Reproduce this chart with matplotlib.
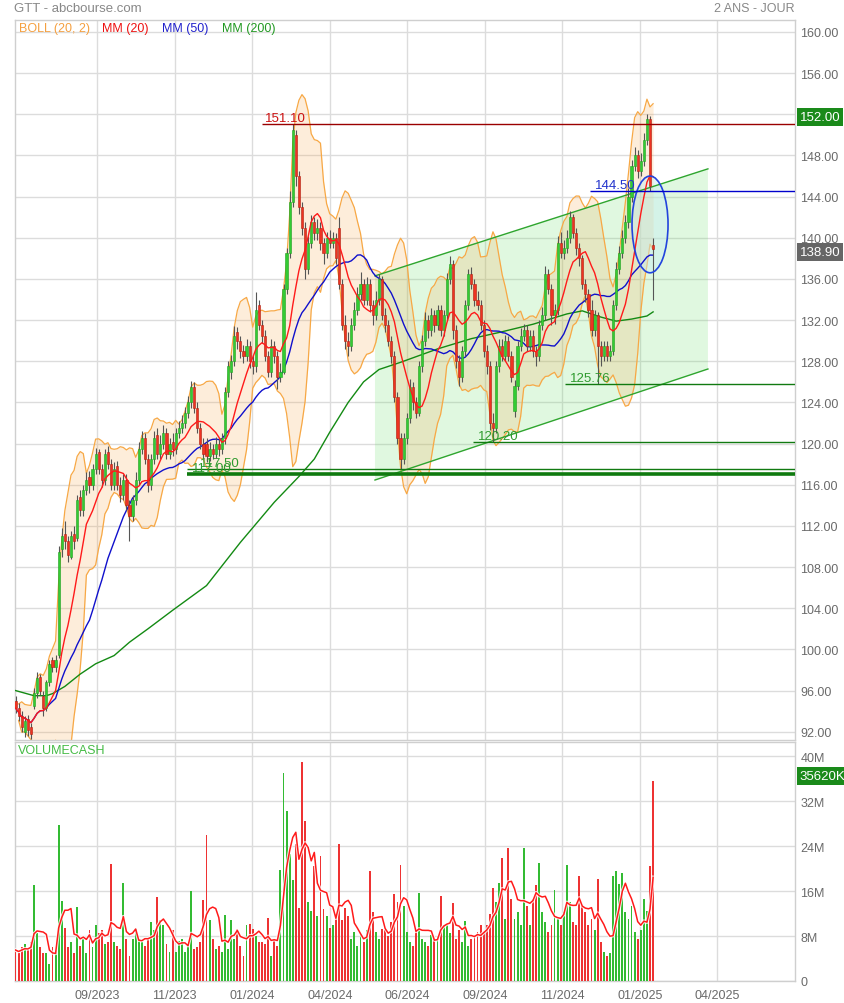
import numpy as np
import pandas as pd
import matplotlib
matplotlib.use("Agg")
import matplotlib.pyplot as plt
from matplotlib.patches import Ellipse, Polygon
import matplotlib.patheffects as pe
import matplotlib.transforms as mtransforms

plt.rcParams['font.family'] = ['Liberation Sans', 'DejaVu Sans']

# ---------------- data (2-day bars) ----------------
OPEN = [
    95.0, 94.3, 93.5, 92.0, 93.2, 92.5, 94.5, 95.8, 97.3, 95.5,
    94.3, 96.8, 99.0, 98.3, 99.5, 109.8, 111.2, 110.5, 109.0, 111.2,
    110.8, 114.8, 113.5, 115.5, 116.8, 116.0, 117.5, 119.2, 117.5, 116.5,
    119.2, 118.0, 116.0, 117.8, 116.0, 115.0, 116.5, 114.0, 113.0, 114.5,
    116.5, 119.5, 120.5, 118.5, 116.0, 118.5, 120.8, 119.0, 120.0, 121.0,
    119.0, 120.2, 119.5, 121.0, 121.5, 122.0, 123.0, 124.0, 125.5, 123.5,
    121.5, 120.0, 120.0, 118.8, 119.5, 119.0, 120.0, 119.5, 120.5, 125.0,
    127.0, 128.0, 130.8, 130.0, 129.0, 128.5, 129.5, 128.0, 127.5, 133.5,
    131.5, 130.5, 128.5, 127.0, 129.5, 128.5, 126.5, 127.0, 135.0, 138.5,
    143.5, 150.0, 146.0, 143.0, 141.0, 137.0, 139.5, 141.5, 140.5, 141.0,
    139.5, 138.5, 140.0, 139.5, 140.0, 141.0, 135.5, 131.5, 130.0, 129.5,
    131.5, 133.0, 134.5, 135.5, 134.0, 135.5, 133.5, 132.5, 134.0, 136.0,
    132.5, 131.5, 130.0, 128.5, 124.5, 120.5, 118.5, 120.5, 122.5, 125.5,
    124.0, 123.0, 127.5, 130.0, 132.0, 131.0, 132.5, 131.5, 133.0, 131.0,
    132.5, 136.0, 137.5, 131.0, 128.0, 126.5, 129.0, 133.5, 136.5, 135.5,
    134.0, 133.5, 131.5, 129.0, 127.5, 122.0, 121.5, 127.5, 129.5, 128.5,
    130.0, 128.5, 123.2, 125.6, 129.5, 130.5, 131.0, 129.5, 130.5, 129.0,
    128.5, 131.5, 132.5, 136.5, 135.0, 132.5, 133.0, 139.5, 138.5, 139.0,
    140.0, 142.0, 140.5, 139.0, 138.0, 135.5, 134.5, 133.0, 131.0, 132.5,
    129.5, 128.5, 129.5, 128.5, 129.0, 133.5, 137.0, 138.5, 140.0, 141.5,
    144.0, 147.0, 148.0, 146.5, 147.5, 149.5, 151.5, 139.3]

CLOSE = [
    94.3, 93.5, 92.5, 93.0, 92.2, 91.8, 95.8, 97.2, 96.0, 94.3,
    96.8, 98.6, 98.3, 99.0, 109.5, 111.0, 110.5, 109.2, 111.0, 110.5,
    114.5, 113.5, 115.5, 116.5, 116.0, 117.5, 119.0, 117.5, 116.5, 119.0,
    118.0, 116.0, 117.5, 116.0, 115.0, 116.5, 114.0, 113.0, 114.5, 116.5,
    119.5, 120.5, 118.5, 116.0, 118.5, 120.5, 119.0, 120.0, 121.0, 119.0,
    120.0, 119.5, 121.0, 121.5, 122.0, 123.0, 124.0, 125.5, 123.5, 121.5,
    120.0, 119.0, 118.8, 119.5, 119.0, 120.0, 119.5, 120.5, 125.0, 127.5,
    128.0, 130.5, 130.0, 129.0, 128.5, 129.5, 128.0, 127.5, 133.0, 131.5,
    130.5, 128.5, 127.0, 129.5, 128.5, 126.5, 127.0, 135.0, 138.5, 143.5,
    150.5, 146.0, 143.0, 141.0, 137.0, 139.5, 141.5, 140.5, 141.0, 139.5,
    138.5, 140.0, 139.5, 140.0, 138.0, 135.5, 131.5, 130.0, 129.5, 131.5,
    133.0, 134.5, 135.5, 134.0, 135.5, 133.5, 132.5, 134.0, 136.0, 132.5,
    131.5, 130.0, 128.5, 124.5, 120.5, 118.5, 120.5, 122.5, 125.5, 124.0,
    123.0, 127.5, 130.0, 132.0, 131.0, 132.5, 131.5, 133.0, 131.0, 132.5,
    136.0, 137.5, 131.0, 128.0, 126.5, 129.0, 133.5, 136.5, 135.5, 134.0,
    133.5, 131.5, 129.0, 127.5, 122.0, 121.5, 127.5, 129.5, 128.5, 130.0,
    128.5, 126.5, 125.6, 129.5, 130.5, 131.0, 129.5, 130.5, 129.0, 128.5,
    131.5, 132.5, 136.5, 135.0, 132.5, 133.0, 139.5, 138.5, 139.0, 140.0,
    142.0, 140.5, 139.0, 138.0, 135.5, 134.5, 133.0, 131.0, 132.5, 129.5,
    128.5, 129.5, 128.5, 129.0, 133.5, 137.0, 138.5, 140.0, 141.5, 144.0,
    147.0, 148.0, 146.5, 147.5, 149.5, 151.5, 145.0, 138.9]

HIGH = [
    95.5, 94.8, 94.0, 93.5, 93.6, 92.8, 96.2, 97.8, 97.6, 96.0,
    97.0, 99.0, 99.3, 99.5, 110.0, 111.8, 112.5, 111.0, 111.5, 112.0,
    115.0, 115.5, 116.0, 117.2, 117.3, 118.0, 119.6, 119.5, 118.0, 119.5,
    119.8, 118.5, 118.2, 118.3, 116.8, 117.0, 117.0, 114.5, 115.0, 117.2,
    120.2, 121.2, 121.0, 119.0, 119.0, 121.2, 121.5, 120.8, 121.8, 121.5,
    120.5, 121.0, 121.5, 122.2, 122.8, 123.6, 124.6, 126.1, 126.0, 124.0,
    122.0, 120.5, 120.5, 120.2, 120.0, 120.6, 120.5, 121.0, 125.5, 128.0,
    128.6, 131.4, 131.3, 130.5, 129.6, 130.2, 130.0, 128.6, 134.7, 134.0,
    132.0, 131.0, 129.0, 130.2, 130.0, 129.0, 127.8, 135.5, 139.0, 144.5,
    151.1, 150.5, 146.5, 143.5, 141.5, 140.2, 142.2, 142.0, 141.8, 141.5,
    140.0, 140.6, 140.8, 140.6, 140.5, 142.0, 136.0, 132.5, 130.8, 132.2,
    133.8, 135.2, 136.7, 136.0, 136.2, 136.0, 134.0, 134.8, 136.5, 136.3,
    133.2, 132.0, 130.5, 129.0, 125.0, 121.0, 121.0, 123.0, 126.3, 126.0,
    124.5, 128.0, 130.6, 132.8, 132.5, 133.2, 133.0, 133.5, 133.5, 133.0,
    136.6, 138.2, 137.8, 131.5, 128.6, 129.5, 134.0, 137.0, 137.2, 136.0,
    134.8, 134.0, 132.0, 129.6, 128.0, 123.0, 128.0, 130.2, 130.2, 130.6,
    130.5, 129.0, 126.2, 130.0, 131.2, 131.6, 131.5, 131.0, 131.0, 129.5,
    132.0, 133.3, 137.3, 137.0, 135.5, 133.6, 140.2, 140.6, 139.8, 140.8,
    142.6, 142.3, 141.0, 139.5, 138.3, 136.0, 135.0, 134.0, 133.0, 132.8,
    130.0, 130.0, 130.0, 129.6, 134.0, 137.6, 139.2, 140.8, 142.2, 144.8,
    147.6, 148.8, 148.5, 148.2, 150.2, 152.0, 151.8, 140.0]

LOW = [
    93.8, 93.0, 92.0, 91.5, 91.6, 91.3, 94.2, 95.3, 95.6, 93.5,
    94.0, 96.4, 97.8, 97.8, 99.2, 109.0, 109.8, 108.5, 108.8, 109.8,
    110.5, 113.0, 113.0, 115.0, 115.2, 115.5, 117.0, 117.0, 115.8, 116.0,
    117.5, 115.5, 115.5, 115.5, 114.3, 114.5, 113.5, 110.5, 112.5, 114.0,
    116.0, 119.0, 118.0, 115.3, 115.5, 118.0, 118.5, 118.5, 119.5, 118.5,
    118.5, 118.8, 119.0, 120.5, 121.0, 121.5, 122.5, 123.5, 123.0, 121.0,
    119.5, 118.5, 118.2, 118.3, 118.5, 118.6, 118.8, 119.0, 120.0, 124.5,
    126.3, 127.5, 129.2, 128.3, 127.8, 128.0, 127.3, 126.8, 127.0, 131.0,
    129.8, 128.0, 126.5, 126.5, 127.8, 125.3, 126.0, 126.8, 134.5, 138.0,
    143.0, 145.0, 142.3, 140.3, 136.0, 136.5, 139.0, 139.8, 139.8, 138.8,
    137.5, 138.0, 139.0, 139.0, 137.5, 135.0, 131.0, 129.2, 128.5, 129.0,
    131.0, 132.5, 134.0, 133.5, 133.5, 132.8, 131.5, 132.0, 133.5, 132.0,
    130.8, 129.5, 127.8, 124.0, 120.0, 117.5, 118.0, 120.0, 122.0, 123.3,
    122.5, 122.7, 127.0, 129.5, 130.3, 130.5, 130.8, 131.0, 130.5, 130.5,
    132.0, 135.5, 130.2, 127.3, 125.6, 126.0, 128.5, 133.0, 135.0, 133.4,
    133.0, 131.0, 128.4, 126.8, 121.3, 120.2, 121.0, 127.0, 128.0, 128.0,
    128.0, 126.0, 122.6, 125.2, 129.0, 130.0, 129.0, 129.0, 128.4, 127.5,
    128.0, 131.0, 132.0, 134.5, 131.5, 131.6, 132.5, 138.0, 137.9, 138.5,
    139.5, 140.0, 138.3, 137.3, 135.0, 133.8, 132.3, 130.5, 130.5, 125.76,
    127.5, 128.0, 128.0, 128.0, 128.6, 133.0, 136.5, 138.0, 139.5, 141.0,
    143.5, 146.5, 145.8, 146.0, 147.0, 149.0, 144.5, 134.0]

VOLUME_M = [
    5.5, 5.0, 6.0, 6.5, 5.5, 7.0, 17.0, 8.5, 6.0, 5.0,
    5.0, 3.0, 6.0, 5.5, 27.7, 14.2, 9.5, 6.0, 7.0, 5.0,
    13.2, 6.3, 7.5, 5.0, 9.0, 6.0, 10.0, 8.5, 9.0, 6.6,
    7.0, 20.8, 7.0, 6.3, 5.7, 17.4, 7.5, 4.5, 7.5, 9.3,
    7.5, 7.0, 6.3, 7.5, 10.5, 9.0, 14.9, 10.8, 9.9, 6.5,
    5.1, 9.0, 5.1, 7.2, 7.5, 5.1, 6.5, 16.0, 5.7, 6.0,
    7.0, 14.4, 26.0, 10.8, 7.5, 5.7, 6.3, 5.1, 11.7, 5.7,
    10.8, 7.5, 9.3, 6.3, 4.5, 9.9, 10.2, 9.3, 8.0, 6.9,
    7.0, 6.5, 11.2, 4.5, 7.5, 6.3, 19.8, 37.0, 30.2, 22.6,
    18.0, 24.4, 13.0, 38.9, 28.4, 14.0, 12.5, 20.5, 11.5, 22.2,
    12.8, 11.5, 9.5, 10.0, 12.0, 24.4, 10.8, 13.0, 11.5, 7.5,
    8.7, 6.3, 8.1, 6.9, 9.0, 19.5, 12.2, 8.7, 7.5, 9.3,
    9.0, 8.0, 10.5, 15.5, 14.0, 20.6, 13.4, 8.7, 7.0, 6.3,
    8.7, 15.6, 7.5, 6.9, 6.3, 8.1, 7.5, 8.0, 15.2, 9.9,
    9.9, 8.5, 13.9, 7.5, 9.0, 6.9, 10.7, 6.3, 7.5, 8.1,
    8.7, 9.9, 8.7, 10.0, 12.0, 16.5, 14.0, 17.5, 21.9, 11.0,
    23.6, 14.6, 11.0, 12.2, 10.0, 23.6, 13.4, 9.9, 14.6, 17.0,
    21.0, 12.2, 10.5, 8.7, 9.9, 16.2, 11.0, 9.9, 12.2, 20.6,
    14.0, 10.5, 10.0, 18.7, 13.4, 12.2, 9.9, 11.0, 9.0, 18.2,
    7.0, 5.1, 4.5, 5.0, 18.7, 19.5, 17.3, 19.2, 12.2, 11.0,
    13.4, 8.7, 7.5, 9.0, 14.6, 12.5, 20.4, 35.62]

# 200-period moving average (bar index, value)
MM200_IDX = [0, 6, 10, 12, 16, 21, 26, 32, 37, 43, 51, 62, 73, 84, 92, 97, 102,
             108, 113, 118, 125, 137, 148, 157, 168, 179, 184, 190, 195, 200, 205, 207]
MM200_VAL = [96.0, 95.5, 95.5, 95.7, 96.4, 97.6, 98.6, 99.4, 100.7, 102.0, 103.8,
             106.2, 110.4, 114.3, 116.8, 118.5, 121.1, 124.0, 126.0, 127.2, 127.9,
             129.2, 130.2, 130.8, 131.6, 132.6, 132.9, 132.3, 131.9, 132.1, 132.4, 132.8]

MONTH_LABELS = ["09/2023", "11/2023", "01/2024", "04/2024", "06/2024",
                "09/2024", "11/2024", "01/2025", "04/2025"]

LEVEL_VALUES = [151.10, 144.50, 125.76, 120.20, 117.50, 117.00]
LEVEL_START = [80.0, 186.5, 178.4, 148.5, 55.7, 55.7]      # bar where each line starts
LEVEL_TEXT_AT = [81.0, 188.1, 180.0, 150.1, 59.9, 57.3]
LEVEL_COLORS = ["#9a0000", "#0000cc", "#117a11", "#117a11", "#117a11", "#0f7a0f"]
LEVEL_TCOLORS = ["#cc1111", "#2233cc", "#2e9a2e", "#2e9a2e", "#2e9a2e", "#2e9a2e"]
LEVEL_WIDTHS = [1.0, 1.0, 1.0, 1.0, 1.0, 2.6]

CHANNEL_X = [116.7, 224.8]
CHANNEL_UPPER = [136.3, 146.7]
CHANNEL_LOWER = [116.46, 127.25]

ELLIPSE_CENTER = (206.0, 141.3)
ELLIPSE_SIZE = (11.7, 9.4)

HIGH_LABEL = 152.00
LAST_CLOSE = 138.90
LAST_VOLUME_K = 35620

# ---------------- figure ----------------
W, H = 845, 1004
fig = plt.figure(figsize=(W / 100, H / 100), dpi=100)
fig.patch.set_facecolor("white")

def fbox(l, t, r, b):
    return [l / W, 1 - b / H, (r - l) / W, (b - t) / H]

ax = fig.add_axes(fbox(15, 21, 795, 741))
axv = fig.add_axes(fbox(15, 743, 795, 982))

XMIN, XMAX = -0.175, 253.07
GRIDC = "#dcdcdc"
TXT = "#6a6a6a"
FS = 9

n = len(CLOSE)
assert len(OPEN) == n and len(HIGH) == n and len(LOW) == n and len(VOLUME_M) == n
idx = np.arange(n)
o = np.array(OPEN); c = np.array(CLOSE); h = np.array(HIGH); l = np.array(LOW)
up = c >= o

grid_x = 26.55 + 25.16 * np.arange(len(MONTH_LABELS))

for a in (ax, axv):
    a.set_xlim(XMIN, XMAX)
    for s in a.spines.values():
        s.set_color("#cfcfcf")
        s.set_linewidth(1.0)
    a.set_xticks(grid_x)
    a.grid(True, axis="both", color=GRIDC, lw=1.0, zorder=0)
    a.set_axisbelow(True)
    a.tick_params(length=0, colors=TXT, labelsize=FS)
    a.yaxis.tick_right()

ax.set_ylim(91.195, 161.166)
ax.set_yticks(np.arange(92, 161, 4))
ax.set_yticklabels([f"{v:.2f}" for v in np.arange(92, 161, 4)])
ax.tick_params(axis="y", pad=4)
ax.set_xticklabels([])

# channel fill + lines
poly = Polygon([(CHANNEL_X[0], CHANNEL_UPPER[0]), (CHANNEL_X[1], CHANNEL_UPPER[1]),
                (CHANNEL_X[1], CHANNEL_LOWER[1]), (CHANNEL_X[0], CHANNEL_LOWER[0])],
               closed=True, facecolor="#66dd66", alpha=0.2, edgecolor="none", zorder=1)
ax.add_patch(poly)
ax.plot(CHANNEL_X, CHANNEL_UPPER, color="#2ea52e", lw=1.0, zorder=3)
ax.plot(CHANNEL_X, CHANNEL_LOWER, color="#2ea52e", lw=1.0, zorder=3)

# indicators
s = pd.Series(c)
mm20 = s.rolling(10, min_periods=1).mean()
sd = s.rolling(10, min_periods=2).std(ddof=0)
bb_up = mm20 + 2 * sd
bb_lo = mm20 - 2 * sd
mm50 = s.rolling(25, min_periods=1).mean()

ax.fill_between(idx, bb_lo, bb_up, color="#f9a54a", alpha=0.2, lw=0, zorder=1.5)
ax.plot(idx, bb_up, color="#f7a845", lw=0.9, zorder=2)
ax.plot(idx, bb_lo, color="#f7a845", lw=0.9, zorder=2)
ax.plot(MM200_IDX, MM200_VAL, color="#138a13", lw=1.0, zorder=3)
ax.plot(idx, mm50, color="#1010cc", lw=1.0, zorder=3)

# ellipse
ell = Ellipse(ELLIPSE_CENTER, ELLIPSE_SIZE[0], ELLIPSE_SIZE[1], facecolor=(0.78, 0.93, 0.95),
              alpha=0.45, edgecolor="none", zorder=2.5)
ax.add_patch(ell)
ax.add_patch(Ellipse(ELLIPSE_CENTER, ELLIPSE_SIZE[0], ELLIPSE_SIZE[1], facecolor="none",
                     edgecolor="#2244dd", lw=1.2, zorder=6))

# candles
ax.vlines(idx, l, h, color="#555555", lw=0.8, zorder=4)
bot = np.minimum(o, c)
bh = np.maximum(np.abs(c - o), 0.15)
ax.bar(idx[up], bh[up], bottom=bot[up], width=0.72, color="#33cc33",
       edgecolor="#22a022", lw=0.4, zorder=5)
ax.bar(idx[~up], bh[~up], bottom=bot[~up], width=0.72, color="#ee3322",
       edgecolor="#b02010", lw=0.4, zorder=5)

ax.plot(idx, mm20, color="#ff1a1a", lw=1.0, zorder=5.5)

# horizontal levels
for val, st, tx, lc, tc, lw in zip(LEVEL_VALUES, LEVEL_START, LEVEL_TEXT_AT,
                                   LEVEL_COLORS, LEVEL_TCOLORS, LEVEL_WIDTHS):
    ax.hlines(val, st, XMAX, color=lc, lw=lw, zorder=6)
    ax.text(tx, val, f"{val:.2f}", color=tc, fontsize=FS + 0.5, ha="left", va="bottom",
            zorder=7)

# legend row
leg = [("BOLL (20, 2)", "#f5a040", 19), ("MM (20)", "#ee1111", 102),
       ("MM (50)", "#2222cc", 162), ("MM (200)", "#229922", 222)]
for t, col, x in leg:
    fig.text(x / W, 1 - 29 / H, t, color=col, fontsize=FS, ha="left", va="center")

fig.text(14 / W, 1 - 9 / H, "GTT - abcbourse.com", color="#888888", fontsize=FS + 0.5,
         ha="left", va="center")
fig.text(795 / W, 1 - 9 / H, "2 ANS - JOUR", color="#888888", fontsize=FS,
         ha="right", va="center")

# right side value boxes (nudged slightly down like the reference)
shift_down = mtransforms.ScaledTranslation(0, -2.5 / 100, fig.dpi_scale_trans)
tr_price = mtransforms.blended_transform_factory(ax.transAxes, ax.transData) + shift_down
ax.text(1.006, HIGH_LABEL, f"{HIGH_LABEL:.2f}", transform=tr_price, color="white",
        fontsize=FS + 0.5, ha="left", va="center", zorder=10, clip_on=False,
        bbox=dict(boxstyle="square,pad=0.22", fc="#1a8a1a", ec="none"))
ax.text(1.006, LAST_CLOSE, f"{LAST_CLOSE:.2f}", transform=tr_price, color="white",
        fontsize=FS + 0.5, ha="left", va="center", zorder=10, clip_on=False,
        bbox=dict(boxstyle="square,pad=0.22", fc="#666666", ec="none"))

# ---------------- volume ----------------
vol = np.array(VOLUME_M)
axv.set_ylim(0, 42.49)
axv.set_yticks([0, 8, 16, 24, 32, 40])
axv.set_yticklabels(["0", "8M", "16M", "24M", "32M", "40M"])
axv.tick_params(axis="y", pad=4)
axv.set_xticklabels(MONTH_LABELS)
axv.tick_params(axis="x", pad=6)
axv.bar(idx[up], vol[up], width=0.62, color="#33bb33", lw=0, zorder=3)
axv.bar(idx[~up], vol[~up], width=0.62, color="#ee3333", lw=0, zorder=3)
vma = pd.Series(vol).rolling(5, min_periods=1).mean()
axv.plot(idx, vma, color="#ff1a1a", lw=1.1, zorder=4,
         path_effects=[pe.Stroke(linewidth=2.6, foreground="white", alpha=0.8), pe.Normal()])
fig.text(18 / W, 1 - 751 / H, "VOLUMECASH", color="#44bb44", fontsize=FS,
         ha="left", va="center")
tr_vol = mtransforms.blended_transform_factory(axv.transAxes, axv.transData) + \
    mtransforms.ScaledTranslation(0, 5 / 100, fig.dpi_scale_trans)
axv.text(1.006, LAST_VOLUME_K / 1000, f"{LAST_VOLUME_K}K", transform=tr_vol, color="white",
         fontsize=FS + 0.5, ha="left", va="center", zorder=10, clip_on=False,
         bbox=dict(boxstyle="square,pad=0.22", fc="#1a8a1a", ec="none"))

fig.savefig("out.png", dpi=100, facecolor="white")
